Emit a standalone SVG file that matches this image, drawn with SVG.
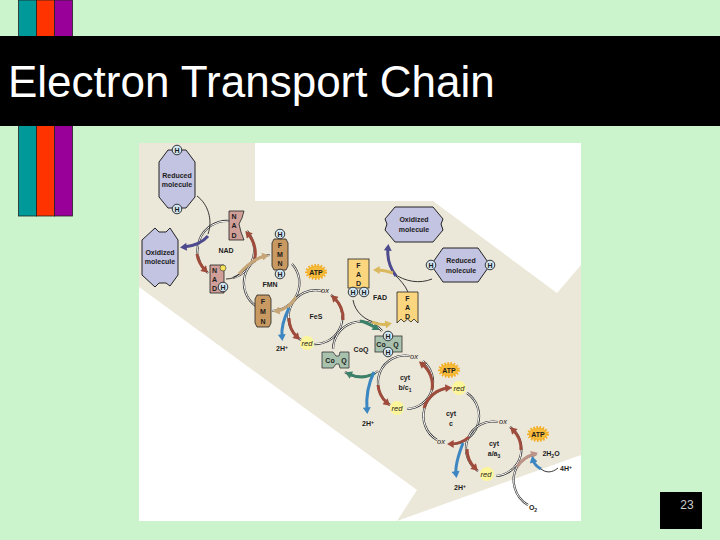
<svg xmlns="http://www.w3.org/2000/svg" width="720" height="540" viewBox="0 0 720 540">
<style>
text{font-family:"Liberation Sans",Arial,sans-serif}
.l{font-size:7px;font-weight:bold;fill:#1c1c1c;text-anchor:middle}
.i{font-size:7.5px;font-style:italic;fill:#1c1c1c;text-anchor:middle}
.hx{fill:#c3c3e2;stroke:#222;stroke-width:1}
.nad{fill:#cf9f98;stroke:#222;stroke-width:.8}
.fmn{fill:#c89a62;stroke:#222;stroke-width:.8}
.fad{fill:#fbd67e;stroke:#222;stroke-width:.8}
.coq{fill:#a9c2ae;stroke:#333;stroke-width:.8}
.hc{fill:#cfe6f2;stroke:#222;stroke-width:.9}
.y{fill:#fdf59a}
.t{fill:none;stroke:#222;stroke-width:.9}
.d{fill:none;stroke:#333;stroke-width:2.2}
.w{fill:none;stroke:#fff;stroke-width:1}
.a{fill:none;stroke-width:3}
.star{fill:#f6bb3a;stroke:#f2ad26;stroke-width:3;stroke-dasharray:1.5 1.5}
</style>
<defs>
<marker id="mr" markerWidth="8" markerHeight="8" refX="2" refY="3" orient="auto" markerUnits="userSpaceOnUse" viewBox="0 0 5 6"><path d="M0 0L5 3L0 6z" fill="#a04c3c"/></marker>
<marker id="mb" markerWidth="8" markerHeight="8" refX="2" refY="3" orient="auto" markerUnits="userSpaceOnUse" viewBox="0 0 5 6"><path d="M0 0L5 3L0 6z" fill="#3c86c2"/></marker>
<marker id="mp" markerWidth="8" markerHeight="8" refX="2" refY="3" orient="auto" markerUnits="userSpaceOnUse" viewBox="0 0 5 6"><path d="M0 0L5 3L0 6z" fill="#4d4a8e"/></marker>
<marker id="mt" markerWidth="8" markerHeight="8" refX="2" refY="3" orient="auto" markerUnits="userSpaceOnUse" viewBox="0 0 5 6"><path d="M0 0L5 3L0 6z" fill="#c6a676"/></marker>
<marker id="my" markerWidth="8" markerHeight="8" refX="2" refY="3" orient="auto" markerUnits="userSpaceOnUse" viewBox="0 0 5 6"><path d="M0 0L5 3L0 6z" fill="#d9b85e"/></marker>
<marker id="mg" markerWidth="8" markerHeight="8" refX="2" refY="3" orient="auto" markerUnits="userSpaceOnUse" viewBox="0 0 5 6"><path d="M0 0L5 3L0 6z" fill="#3b8068"/></marker>
<marker id="mk" markerWidth="8" markerHeight="8" refX="2" refY="3" orient="auto" markerUnits="userSpaceOnUse" viewBox="0 0 5 6"><path d="M0 0L5 3L0 6z" fill="#bd9488"/></marker>
<path id="p1" d="M229 221A29.500 29.500 0 0 0 208 273"/>
<path id="p2" d="M233 278A29 29 0 0 0 247 231"/>
<path id="p3" d="M270 255A28 28 0 0 0 256 306"/>
<path id="p4" d="M292 264A28 28 0 0 1 272 311"/>
<path id="p5" d="M322 291A27 27 0 0 0 301 340"/>
<path id="p6" d="M314 344A27 27 0 0 0 331 295"/>
<path id="p7" d="M333 349A28 28 0 0 1 382 331"/>
<path id="p8" d="M378 371A28 28 0 0 1 345 372"/>
<path id="p9" d="M410 356A27 27 0 0 0 390 405"/>
<path id="p10" d="M407 409A27 27 0 0 0 423 361"/>
<path id="p11" d="M437 440A28 28 0 0 1 452 388"/>
<path id="p12" d="M467 393A28 28 0 0 1 450 444"/>
<path id="p13" d="M498 422A27 27 0 0 0 478 471"/>
<path id="p14" d="M496 476A27 27 0 0 0 510 427"/>
<path id="p15" d="M528 505C514 497 510 479 517 467C522 459 530 455 537 454"/>
</defs>
<rect width="720" height="540" fill="#ccf4cc"/>
<rect x="18.500" y="0" width="18" height="216" fill="#009999" stroke="#222" stroke-width=".8"/>
<rect x="36.500" y="0" width="18" height="216" fill="#ff3300" stroke="#222" stroke-width=".8"/>
<rect x="54.500" y="0" width="18" height="216" fill="#990099" stroke="#222" stroke-width=".8"/>
<rect x="0" y="36" width="720" height="90" fill="#000"/>
<text x="8" y="97" font-size="44" fill="#fff">Electron Transport Chain</text>
<rect x="139" y="143" width="442" height="378" fill="#fff"/>
<path d="M139 143H255V201H433L557 293L581 265V455L397 521L417 490L139 287z" fill="#ece8d9"/>
<rect x="660" y="492" width="42" height="37" fill="#000"/>
<text x="687" y="509" font-size="12" fill="#ccc" text-anchor="middle">23</text>

<g id="glows">
<circle class="y" cx="307" cy="343" r="7"/><circle class="y" cx="397" cy="408" r="7"/><circle class="y" cx="459" cy="388" r="7"/><circle class="y" cx="487" cy="474" r="7"/>
</g>
<g id="connectors">
<use href="#p1" class="d"/><use href="#p1" class="w"/>
<use href="#p2" class="d"/><use href="#p2" class="w"/>
<use href="#p3" class="d"/><use href="#p3" class="w"/>
<use href="#p4" class="d"/><use href="#p4" class="w"/>
<use href="#p5" class="d"/><use href="#p5" class="w"/>
<use href="#p6" class="d"/><use href="#p6" class="w"/>
<use href="#p7" class="d"/><use href="#p7" class="w"/>
<use href="#p8" class="d"/><use href="#p8" class="w"/>
<use href="#p9" class="d"/><use href="#p9" class="w"/>
<use href="#p10" class="d"/><use href="#p10" class="w"/>
<use href="#p11" class="d"/><use href="#p11" class="w"/>
<use href="#p12" class="d"/><use href="#p12" class="w"/>
<use href="#p13" class="d"/><use href="#p13" class="w"/>
<use href="#p14" class="d"/><use href="#p14" class="w"/>
<use href="#p15" class="d"/><use href="#p15" class="w"/>
<path class="t" d="M197 196C208 204 213 220 208 234"/>
<path class="a" stroke="#4d4a8e" marker-end="url(#mp)" d="M208 236C202 243 194 246 184 247"/>
<path class="a" stroke="#a04c3c" marker-end="url(#mr)" d="M197 254A29.500 29.500 0 0 0 205 270"/>
<path class="a" stroke="#a04c3c" marker-end="url(#mr)" d="M254 262A29 29 0 0 0 248 234"/>
<path class="t" d="M226 279C232 279 236 277 239 274"/>
<path class="a" stroke="#c6a676" marker-end="url(#mt)" d="M239 274C247 265 256 258 265 256"/>
<path class="a" stroke="#c6a676" marker-end="url(#mt)" d="M296 297A28 28 0 0 1 277 311"/>
<path class="a" stroke="#a04c3c" marker-end="url(#mr)" d="M289 318A27 27 0 0 0 297 337"/>
<path class="a" stroke="#3c86c2" marker-end="url(#mb)" d="M289 308C284 318 281 327 282 337"/>
<path class="a" stroke="#a04c3c" marker-end="url(#mr)" d="M343 320A27 27 0 0 0 334 298"/>
<path class="t" d="M353 300C355 312 365 321 378 323"/>
<path class="a" stroke="#3b8068" marker-end="url(#mg)" d="M360 321C366 322 371 325 376 328"/>
<path class="a" stroke="#d9b85e" marker-end="url(#my)" d="M372 322C378 325 383 325 388 324"/>
<path class="t" d="M432 279C420 284 405 282 393 273"/>
<path class="t" d="M408 292C405 285 400 280 396 276"/>
<path class="a" stroke="#4d4a8e" marker-end="url(#mp)" d="M396 276C390 268 387 258 388 248"/>
<path class="a" stroke="#d9b85e" marker-end="url(#my)" d="M393 273C387 271 382 270 377 270"/>
<path class="a" stroke="#3b8068" marker-end="url(#mg)" d="M375 373A28 28 0 0 1 349 374"/>
<path class="a" stroke="#a04c3c" marker-end="url(#mr)" d="M378 385A27 27 0 0 0 387 403"/>
<path class="a" stroke="#3c86c2" marker-end="url(#mb)" d="M374 372C368 384 366 397 367 410"/>
<path class="a" stroke="#a04c3c" marker-end="url(#mr)" d="M432 390A27 27 0 0 0 422 364"/>
<path class="a" stroke="#a04c3c" marker-end="url(#mr)" d="M424 408A28 28 0 0 1 448 388"/>
<path class="a" stroke="#a04c3c" marker-end="url(#mr)" d="M469 437A28 28 0 0 1 451 444"/>
<path class="a" stroke="#a04c3c" marker-end="url(#mr)" d="M467 449A27 27 0 0 0 475 468"/>
<path class="a" stroke="#3c86c2" marker-end="url(#mb)" d="M463 443C458 456 455 466 456 474"/>
<path class="a" stroke="#a04c3c" marker-end="url(#mr)" d="M521 450A27 27 0 0 0 513 430"/>
<path class="a" stroke="#bd9488" marker-end="url(#mk)" d="M517 467C522 459 528 456 534 454"/>
<path class="t" d="M558 468C552 473 546 473 541 469"/>
<path class="a" stroke="#3c86c2" marker-end="url(#mb)" d="M541 469C536 466 534 464 533 460"/>
</g>

<g id="reduced-left"><path class="hx" d="M168 150H186L195 162V197L186 208H168L159 197V162z"/><text class="l" x="177" y="178">Reduced</text><text class="l" x="177" y="187">molecule</text><circle class="hc" cx="177" cy="150" r="4.800"/><text class="l" x="177" y="152.500">H</text><circle class="hc" cx="177" cy="209" r="4.800"/><text class="l" x="177" y="211.500">H</text></g>
<g id="oxidized-left"><path class="hx" d="M142 240L155 228L159 232H166L170 228L178 240V275L170 286L166 283H159L155 287L142 275z"/><text class="l" x="160" y="255">Oxidized</text><text class="l" x="160" y="264">molecule</text></g>
<g id="nad-top"><path class="nad" d="M229 211H244L242 218L239 224L241 232L244 240H229z"/><text class="l" x="234" y="219">N</text><text class="l" x="234" y="228">A</text><text class="l" x="234" y="238">D</text></g>
<g id="nad-low"><path class="nad" d="M210 265H224V293H210z"/><text class="l" x="214.500" y="273">N</text><text class="l" x="214.500" y="282">A</text><text class="l" x="214.500" y="291">D</text><circle cx="223" cy="268" r="3" fill="#f6e35c" stroke="#333" stroke-width=".6"/><circle class="hc" cx="223" cy="287" r="4.800"/><text class="l" x="223" y="289.500">H</text></g>
<g id="nad-label"><text class="l" x="226" y="253">NAD</text></g>
<g id="fmn-top"><path class="fmn" d="M274 239H286L288 243V266L286 270H274L272 266V243z"/><text class="l" x="280" y="248">F</text><text class="l" x="280" y="257">M</text><text class="l" x="280" y="266">N</text><circle class="hc" cx="280" cy="234" r="4.800"/><text class="l" x="280" y="236.500">H</text><circle class="hc" cx="280" cy="274" r="4.800"/><text class="l" x="280" y="276.500">H</text></g>
<g id="fmn-low"><path class="fmn" d="M257 295H269L271 299V323L269 327H257L255 323V299z"/><text class="l" x="263" y="304">F</text><text class="l" x="263" y="314">M</text><text class="l" x="263" y="324">N</text></g>
<g id="fmn-label"><text class="l" x="270" y="287">FMN</text></g>
<g id="atp1"><ellipse class="star" cx="316" cy="272" rx="9.500" ry="6.500"/><text class="l" x="316" y="275">ATP</text></g>
<g id="fes"><text class="l" x="316" y="319">FeS</text></g>
<g id="fad-top"><rect class="fad" x="348" y="259" width="21" height="29"/><text class="l" x="358.500" y="268">F</text><text class="l" x="358.500" y="277">A</text><text class="l" x="358.500" y="286">D</text><circle class="hc" cx="353" cy="292" r="4.800"/><text class="l" x="353" y="294.500">H</text><circle class="hc" cx="364" cy="292" r="4.800"/><text class="l" x="364" y="294.500">H</text></g>
<g id="fad-low"><path class="fad" d="M397 292H418V323L414 319L411 322L407.500 319L404 322L401 319L397 323z"/><text class="l" x="407.500" y="301">F</text><text class="l" x="407.500" y="310">A</text><text class="l" x="407.500" y="319">D</text></g>
<g id="fad-label"><text class="l" x="380" y="300">FAD</text></g>
<g id="oxidized-right"><path class="hx" d="M395 207H433L443 219L441 224L443 230L433 242H395L385 230L387 224L385 219z"/><text class="l" x="414" y="222">Oxidized</text><text class="l" x="414" y="232">molecule</text></g>
<g id="reduced-right"><path class="hx" d="M443 248H478L490 265L478 282H443L431 265z"/><text class="l" x="461" y="263">Reduced</text><text class="l" x="461" y="273">molecule</text><circle class="hc" cx="431" cy="265" r="4.800"/><text class="l" x="431" y="267.500">H</text><circle class="hc" cx="490" cy="265" r="4.800"/><text class="l" x="490" y="267.500">H</text></g>
<g id="coq-top"><rect class="coq" x="375" y="336" width="27" height="16"/><text class="l" x="381" y="347">Co</text><text class="l" x="396" y="347">Q</text><circle class="hc" cx="388" cy="336" r="4.800"/><text class="l" x="388" y="338.500">H</text><circle class="hc" cx="388" cy="352" r="4.800"/><text class="l" x="388" y="354.500">H</text></g>
<g id="coq-low"><path class="coq" d="M322 352H333L336 356H339L340 352H349V368H340L339 364H336L333 368H322z"/><text class="l" x="330" y="362.500">Co</text><text class="l" x="344" y="362.500">Q</text></g>
<g id="coq-label"><text class="l" x="361" y="352">CoQ</text></g>
<g id="atp2"><ellipse class="star" cx="449" cy="370" rx="9.500" ry="6.500"/><text class="l" x="449" y="373">ATP</text></g>
<g id="atp3"><ellipse class="star" cx="538" cy="434" rx="9.500" ry="6.500"/><text class="l" x="538" y="437">ATP</text></g>
<g id="labels">
<text class="i" x="325" y="293">ox</text><text class="i" x="414" y="359">ox</text><text class="i" x="503" y="424">ox</text><text class="i" x="441" y="444">ox</text>
<text class="i" x="307" y="346">red</text><text class="i" x="397" y="411">red</text><text class="i" x="459" y="391">red</text><text class="i" x="486" y="477">red</text>
<text class="l" x="405" y="380">cyt</text><text class="l" x="405" y="390">b/c<tspan font-size="5" dy="1.500">1</tspan></text>
<text class="l" x="451" y="416">cyt</text><text class="l" x="451" y="426">c</text>
<text class="l" x="494" y="446">cyt</text><text class="l" x="494" y="456">a/a<tspan font-size="5" dy="1.500">3</tspan></text>
<text class="l" x="282" y="351">2H<tspan font-size="5" dy="-2.500">+</tspan></text><text class="l" x="368" y="426">2H<tspan font-size="5" dy="-2.500">+</tspan></text><text class="l" x="460" y="490">2H<tspan font-size="5" dy="-2.500">+</tspan></text>
<text class="l" x="566" y="471">4H<tspan font-size="5" dy="-2.500">+</tspan></text>
<text class="l" x="551" y="456">2H<tspan font-size="5" dy="1.500">2</tspan><tspan dy="-1.500">O</tspan></text>
<text class="l" x="533" y="510">O<tspan font-size="5" dy="1.500">2</tspan></text>
</g>
</svg>
